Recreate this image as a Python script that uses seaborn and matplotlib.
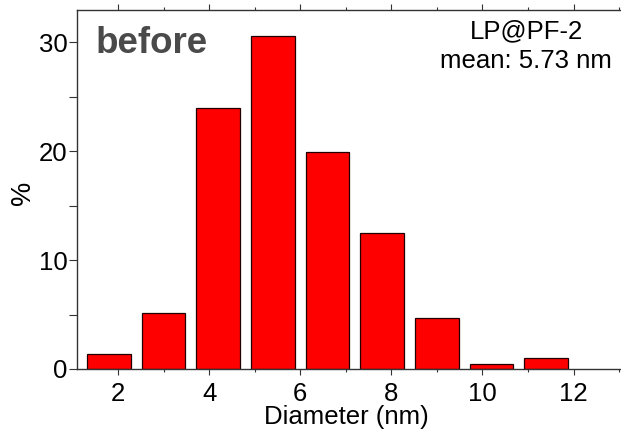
import matplotlib
matplotlib.use("Agg")
import matplotlib.pyplot as plt
import seaborn as sns
import pandas as pd
from matplotlib.ticker import MultipleLocator

# Data
diameters = [1.8, 3.0, 4.2, 5.4, 6.6, 7.8, 9.0, 10.2, 11.4]
percents = [1.4, 5.1, 24.0, 30.55, 19.9, 12.5, 4.65, 0.5, 1.0]
x_ticks = [2, 4, 6, 8, 10, 12]
y_ticks = [0, 10, 20, 30]
sample_label = "LP@PF-2"
mean_label = "mean: 5.73 nm"
state_label = "before"

sns.set_theme(style="ticks")
plt.rcParams['font.family'] = ['Liberation Sans', 'DejaVu Sans']

df = pd.DataFrame({"Diameter": diameters, "Percent": percents})

fig = plt.figure(figsize=(6.21, 4.29), dpi=100)
ax = fig.add_axes([77/621, 60/429, 543/621, 359/429])

sns.barplot(data=df, x="Diameter", y="Percent", native_scale=True,
            color="#ff0000", saturation=1, edgecolor="#200000",
            linewidth=0.9, ax=ax, width=0.8)

ax.set_xlim(1.1, 13.02)
ax.set_ylim(0, 32.95)
ax.set_xticks(x_ticks)
ax.set_xticklabels([str(t) for t in x_ticks])
ax.set_yticks(y_ticks)
ax.xaxis.set_minor_locator(MultipleLocator(1))
ax.yaxis.set_minor_locator(MultipleLocator(5))

for s in ["left", "bottom", "top"]:
    ax.spines[s].set_visible(True)
    ax.spines[s].set_color("#333333")
    ax.spines[s].set_linewidth(1.0)
ax.spines["right"].set_visible(False)

fs = 18.5
ax.tick_params(axis="x", which="major", direction="out", length=4.5, width=0.8,
               labelsize=fs, pad=5, colors="#333333", labelcolor="black",
               top=True)
ax.tick_params(axis="x", which="minor", direction="out", length=2.5, width=0.8,
               colors="#333333", top=True)
ax.tick_params(axis="y", which="major", direction="out", length=6, width=0.8,
               labelsize=fs, pad=1, colors="#333333", labelcolor="black")
ax.tick_params(axis="y", which="minor", direction="out", length=6, width=0.8,
               colors="#333333")

ax.set_xlabel("Diameter (nm)", fontsize=fs, color="black")
ax.xaxis.set_label_coords(0.497, -0.153)
ax.xaxis.label.set_va("baseline")
ax.set_ylabel("%", fontsize=fs + 1, color="black")
ax.yaxis.set_label_coords(-0.1, 0.49)
ax.yaxis.label.set_va("center")

ax.text(0.035, 0.879, state_label, transform=ax.transAxes, fontsize=26.5,
        fontweight="bold", color="#4a4a4a", ha="left", va="baseline")
ax.text(0.827, 0.921, sample_label, transform=ax.transAxes, fontsize=fs,
        color="black", ha="center", va="baseline")
ax.text(0.827, 0.8376, mean_label, transform=ax.transAxes, fontsize=fs,
        color="black", ha="center", va="baseline")

fig.savefig("out.png", dpi=100)
